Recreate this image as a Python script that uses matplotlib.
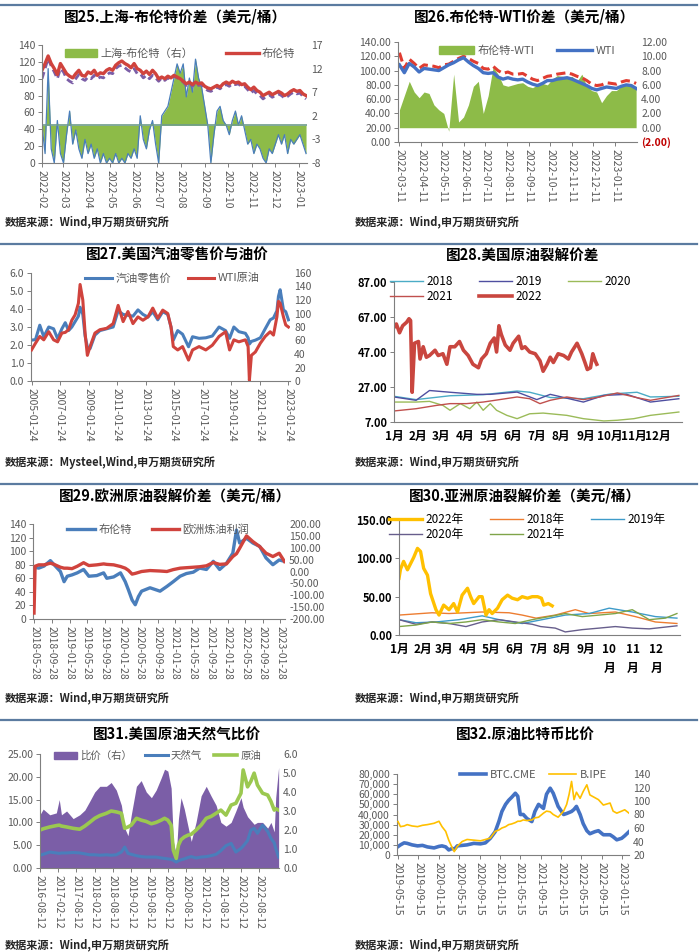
import numpy as np
import pandas as pd
import matplotlib
matplotlib.use('Agg')
import matplotlib.pyplot as plt
from matplotlib.patches import Patch
from matplotlib.lines import Line2D

plt.rcParams['font.family'] = ['Noto Sans CJK SC', 'DejaVu Sans']
plt.rcParams['axes.unicode_minus'] = False

# ---------------- 数据 ----------------
# 图25 上海-布伦特 (4天一个点, 从2022-02-01开始)
sh_brent_25 = [0, -6, 12, -5, -8, 1, -6, -8, -2, 3,
               -4, -1, -5, -7, -3, -6, -4, -7, -5, -8,
               -6, -8, -7, -8, -6, -8, -7, -8, -6, -7,
               -5, -7, 2, -3, -5, -1, 1, -4, -8, 2,
               3, 4, 7, 10, 13, 11, 13, 6, 10, 7,
               14, 10, 8, 4, 0, -8, -2, 3, 4, 1,
               0, -2, 1, 3, 0, 2, -1, -4, -3, -6,
               -4, -5, -7, -8, -5, -6, -4, -2, -4, -2,
               -6, -3, -4, -3, -2, -4, -6]
brent_25 = [110, 118, 127, 118, 112, 105, 118, 112, 106, 103,
            101, 106, 110, 104, 103, 108, 106, 110, 104, 107,
            106, 110, 112, 110, 116, 119, 121, 118, 116, 113,
            118, 112, 110, 106, 109, 105, 110, 106, 100, 102,
            100, 103, 101, 104, 102, 100, 97, 94, 96, 93,
            96, 94, 95, 91, 89, 88, 90, 92, 90, 94,
            96, 94, 97, 95, 96, 93, 94, 90, 87, 90,
            86, 84, 80, 82, 84, 81, 83, 85, 83, 80,
            82, 85, 87, 85, 86, 82, 80]
shanghai_25 = [100, 112, 124, 115, 108, 100, 112, 108, 100, 97,
               95, 100, 105, 100, 98, 102, 100, 104, 100, 102,
               101, 104, 107, 106, 112, 115, 116, 113, 110, 108,
               112, 106, 106, 101, 104, 100, 104, 101, 97, 101,
               98, 101, 99, 103, 101, 99, 96, 92, 95, 91,
               95, 92, 93, 89, 86, 85, 87, 90, 88, 92,
               93, 91, 94, 93, 94, 90, 91, 87, 83, 86,
               82, 80, 76, 79, 81, 78, 80, 82, 80, 77,
               79, 82, 84, 82, 83, 79, 76]

# 图26 布伦特-WTI (周度, 从2022-03-11开始)
brent_wti_26 = [2.5, 4.5, 6.5, 5.0, 4.2, 5.0, 4.8, 3.2, 2.5, 2.0,
                -0.5, 7.5, 0.8, 1.5, 3.2, 5.8, 6.5, 2.0, 4.5, 8.5,
                7.5, 6.0, 5.8, 6.0, 6.2, 6.3, 5.8, 5.6, 6.0, 6.2,
                6.0, 6.8, 7.3, 7.2, 7.0, 7.2, 6.5, 7.5, 5.8, 5.2,
                5.0, 3.5, 4.5, 5.2, 5.2, 5.8, 6.0, 6.2, 5.5]
wti_26 = [108, 97, 110, 105, 98, 103, 102, 101, 100, 104,
          108, 111, 115, 118, 112, 107, 103, 97, 96, 97,
          91, 88, 90, 88, 87, 88, 84, 81, 79, 82,
          86, 86, 88, 89, 90, 88, 85, 82, 79, 75,
          73, 75, 77, 76, 75, 78, 80, 79, 75]
brent_26 = [125, 103, 116, 110, 103, 108, 107, 106, 104, 108,
            109, 113, 117, 120, 117, 113, 110, 103, 102, 106,
            100, 96, 98, 95, 95, 96, 92, 88, 86, 89,
            92, 93, 95, 96, 97, 95, 92, 90, 86, 81,
            79, 80, 83, 82, 81, 84, 86, 85, 82]

# 图27 汽油零售价与WTI
t_27 = [2005.06, 2005.34, 2005.64, 2005.92, 2006.27, 2006.61, 2006.89, 2007.19, 2007.43, 2007.66,
        2007.89, 2008.12, 2008.35, 2008.47, 2008.66, 2008.82, 2008.98, 2009.17, 2009.51, 2009.86,
        2010.33, 2010.79, 2011.14, 2011.49, 2011.83, 2012.18, 2012.53, 2012.88, 2013.23, 2013.57,
        2013.92, 2014.27, 2014.62, 2014.85, 2015.01, 2015.32, 2015.66, 2016.08, 2016.36, 2016.82,
        2017.29, 2017.75, 2018.22, 2018.68, 2018.96, 2019.26, 2019.61, 2020.07, 2020.26, 2020.35,
        2020.49, 2020.77, 2021.12, 2021.46, 2021.81, 2022.04, 2022.28, 2022.39, 2022.51, 2022.74,
        2022.90, 2023.09]
gasoline_27 = [2.27, 2.3, 3.1, 2.46, 3.0, 2.9, 2.35, 2.9, 3.24, 2.8,
               3.0, 3.3, 3.6, 4.1, 3.7, 2.5, 1.9, 1.8, 2.55, 2.8,
               2.9, 3.0, 3.9, 3.7, 3.65, 3.6, 3.95, 3.7, 3.55, 3.85,
               3.4, 3.85, 3.7, 3.0, 2.27, 2.8, 2.6, 1.9, 2.46, 2.37,
               2.4, 2.5, 3.0, 2.8, 2.37, 3.0, 2.74, 2.65, 2.4, 2.05,
               2.2, 2.27, 2.4, 2.9, 3.4, 3.5, 3.9, 4.7, 5.07, 3.95,
               3.85, 3.4]
wti_27 = [46, 56, 66, 61, 73, 61, 58, 71, 72, 76,
          90, 98, 115, 143, 120, 71, 38, 51, 71, 76,
          78, 85, 112, 88, 103, 85, 95, 90, 95, 108,
          93, 105, 100, 80, 51, 46, 51, 31, 46, 51,
          46, 53, 66, 73, 46, 61, 58, 61, 51, 1,
          38, 43, 56, 66, 73, 68, 95, 118, 115, 95,
          83, 80]

# 图28 美国原油裂解价差 (按年内天数)
day_28_2018 = [0, 28, 71, 113, 156, 172, 198, 240, 274, 308, 325, 361]
val_28_2018 = [21.7, 19.8, 22, 22.6, 24.7, 24, 21, 20.3, 23, 24, 21.3, 21.7]
day_28_2019 = [0, 28, 45, 71, 105, 122, 156, 181, 198, 240, 266, 295, 325, 361]
val_28_2019 = [21.3, 19.4, 25, 24, 22.8, 22.8, 24.1, 19.8, 22.8, 18.4, 22.2, 22.8, 18.4, 20.3]
day_28_2020 = [0, 28, 45, 62, 71, 84, 96, 105, 113, 122, 130, 143, 156, 172, 189, 219,
               240, 266, 283, 304, 325, 361]
val_28_2020 = [18.4, 18.4, 18.8, 16.5, 13.7, 17.5, 14.6, 18.4, 13.7, 17.5, 13.7, 10.8, 8.9,
               11.7, 12.1, 10.8, 8.9, 7.6, 8, 8.9, 10.8, 12.7]
day_28_2021 = [0, 28, 54, 71, 92, 113, 134, 156, 172, 185, 198, 219, 240, 261, 283, 308, 325, 361]
val_28_2021 = [13.3, 14.6, 16.5, 17.5, 17.5, 18.4, 19.8, 21.3, 20.3, 17.5, 19.4, 21.3, 19.8,
               21.3, 23.6, 20.9, 19.4, 22.2]
day_28_2022 = [0, 3, 7, 11, 16, 19, 21, 23, 26, 31, 33, 37, 41, 45, 52, 56, 62, 67, 71, 77,
               83, 88, 94, 100, 107, 111, 117, 122, 127, 130, 133, 136, 141, 147, 151, 158,
               162, 166, 172, 179, 185, 189, 194, 198, 202, 208, 215, 221, 225, 232, 238,
               242, 245, 249, 252, 255, 257]
val_28_2022 = [61, 63, 58, 62, 64, 66, 65, 24, 52, 53, 43, 50, 44, 45, 48, 45, 46, 40, 50, 50,
               53, 48, 45, 40, 38, 43, 46, 52, 55, 47, 62, 57, 51, 48, 52, 56, 49, 50, 47, 46,
               42, 36, 40, 44, 41, 46, 45, 43, 47, 52, 46, 41, 37, 38, 46, 42, 40]

# 图29 欧洲原油裂解价差
t_29 = [2018.40, 2018.42, 2018.49, 2018.59, 2018.71, 2018.78, 2018.90, 2018.97, 2019.03, 2019.12,
        2019.22, 2019.34, 2019.44, 2019.59, 2019.72, 2019.78, 2019.91, 2020.04, 2020.13, 2020.19,
        2020.26, 2020.32, 2020.38, 2020.44, 2020.60, 2020.79, 2020.92, 2021.04, 2021.17, 2021.29,
        2021.42, 2021.54, 2021.67, 2021.80, 2021.92, 2022.05, 2022.17, 2022.24, 2022.30, 2022.43,
        2022.55, 2022.68, 2022.80, 2022.93, 2023.05, 2023.15]
brent_29 = [77, 76, 75, 78, 86, 80, 70, 55, 63, 65,
            68, 73, 63, 64, 68, 60, 62, 68, 55, 43,
            28, 21, 33, 41, 46, 41, 48, 55, 63, 67,
            69, 75, 73, 85, 73, 82, 97, 131, 112, 119,
            112, 107, 90, 80, 87, 85]
margin_29 = [-175, 22, 28, 28, 35, 30, 18, 14, 14, 12,
             22, 37, 25, 28, 32, 30, 28, 21, 14, 5,
             -11, -8, -4, 0, 4, 2, 0, 8, 14, 16,
             18, 20, 24, 38, 30, 32, 63, 75, 98, 150,
             126, 105, 77, 63, 77, 42]

# 图30 亚洲原油裂解价差 (按年内天数)
day_30_2022 = [0, 2, 6, 11, 15, 19, 24, 28, 32, 37, 41, 48, 52, 58, 65, 71, 76, 82, 89, 93,
               97, 104, 108, 113, 117, 121, 128, 134, 141, 147, 154, 160, 167, 173, 180, 185,
               188, 194, 199]
val_30_2022 = [74, 86, 96, 85, 93, 101, 113, 109, 87, 78, 54, 33, 26, 39, 33, 41, 30, 52, 61, 50,
               41, 50, 50, 26, 33, 28, 35, 46, 52, 48, 46, 50, 48, 50, 50, 48, 39, 41, 38]
day_30_2018 = [0, 43, 65, 108, 143, 160, 178, 203, 229, 247, 281, 307, 333, 361]
val_30_2018 = [26, 29, 28, 30, 29, 26, 22, 26, 33, 28, 30, 24, 17, 15]
day_30_2019 = [0, 22, 48, 78, 108, 130, 160, 186, 216, 247, 273, 303, 333, 361]
val_30_2019 = [20, 16, 17, 20, 25, 20, 15, 20, 26, 28, 35, 30, 24, 22]
day_30_2020 = [0, 22, 43, 65, 87, 108, 130, 151, 173, 184, 203, 216, 238, 260, 281, 303, 325, 361]
val_30_2020 = [20, 14, 17, 15, 11, 17, 20, 17, 14, 11, 9, 4, 7, 9, 11, 9, 8, 12]
day_30_2021 = [0, 22, 43, 65, 87, 108, 130, 151, 173, 195, 216, 238, 260, 281, 303, 325, 346, 361]
val_30_2021 = [11, 13, 17, 15, 17, 20, 17, 15, 20, 24, 28, 24, 26, 28, 33, 20, 22, 28]

# 图31 美国原油天然气比价
t_31 = [2016.61, 2016.70, 2016.88, 2017.06, 2017.14, 2017.20, 2017.34, 2017.52, 2017.70, 2017.84,
        2017.97, 2018.11, 2018.25, 2018.43, 2018.56, 2018.70, 2018.84, 2018.93, 2019.02, 2019.11,
        2019.25, 2019.38, 2019.52, 2019.66, 2019.79, 2019.93, 2020.02, 2020.11, 2020.20, 2020.26,
        2020.34, 2020.40, 2020.47, 2020.56, 2020.66, 2020.75, 2020.88, 2021.02, 2021.16, 2021.29,
        2021.43, 2021.56, 2021.70, 2021.84, 2021.97, 2022.11, 2022.17, 2022.29, 2022.38, 2022.47,
        2022.56, 2022.70, 2022.84, 2022.93, 2023.02, 2023.06, 2023.14]
ratio_31 = [2.8, 3.1, 2.8, 2.9, 3.6, 2.8, 3.0, 2.6, 2.8, 3.05,
            3.5, 4.0, 4.3, 4.3, 4.5, 4.1, 3.3, 2.1, 1.7, 2.8,
            4.3, 4.6, 4.0, 3.7, 4.1, 4.75, 5.2, 5.1, 4.2, 1.4,
            0.7, 2.6, 3.7, 3.1, 2.2, 1.4, 2.4, 3.8, 4.3, 3.8,
            3.3, 2.4, 2.2, 2.4, 3.0, 3.7, 3.2, 2.7, 2.5, 2.3,
            2.4, 2.4, 2.1, 2.4, 1.9, 3.7, 5.3]
crude_31 = [8.3, 8.6, 9.0, 9.3, 9.4, 9.2, 9.0, 8.7, 8.5, 9.2,
            10.0, 10.9, 11.5, 12.0, 12.5, 12.3, 12.0, 8.7, 9.0, 9.4,
            10.9, 10.5, 10.2, 9.7, 10.0, 10.5, 10.9, 10.5, 9.4, 3.9,
            2.1, 5.0, 6.2, 6.8, 7.2, 7.4, 8.3, 9.4, 10.9, 11.3,
            12.0, 12.7, 11.6, 13.8, 14.2, 16.4, 21.5, 17.8, 19.0, 20.8,
            18.2, 16.4, 16.0, 14.6, 12.7, 13.0, 12.7]
natgas_31 = [2.8, 3.0, 3.5, 3.3, 3.2, 3.3, 3.3, 3.4, 3.3, 3.1,
             2.9, 2.9, 2.8, 2.9, 2.8, 2.9, 3.5, 4.6, 3.2, 3.0,
             2.7, 2.5, 2.4, 2.4, 2.4, 2.2, 2.1, 2.0, 1.9, 1.7,
             1.3, 1.6, 1.8, 2.0, 2.3, 2.5, 2.2, 2.4, 2.5, 2.7,
             3.0, 3.8, 4.9, 5.4, 3.5, 4.3, 4.8, 6.0, 8.3, 8.7,
             7.6, 9.4, 8.0, 6.5, 5.5, 4.3, 2.4]

# 图32 原油比特币比价
t_32 = [2019.37, 2019.41, 2019.47, 2019.52, 2019.60, 2019.69, 2019.77, 2019.85, 2019.96, 2020.04,
        2020.09, 2020.15, 2020.20, 2020.26, 2020.29, 2020.34, 2020.42, 2020.50, 2020.61, 2020.72,
        2020.80, 2020.88, 2020.96, 2021.02, 2021.07, 2021.13, 2021.18, 2021.23, 2021.29, 2021.33,
        2021.37, 2021.42, 2021.48, 2021.56, 2021.61, 2021.67, 2021.75, 2021.80, 2021.86, 2021.91,
        2021.99, 2022.08, 2022.13, 2022.17, 2022.21, 2022.25, 2022.29, 2022.35, 2022.40, 2022.46,
        2022.51, 2022.59, 2022.65, 2022.73, 2022.84, 2022.89, 2022.95, 2023.03, 2023.08, 2023.15]
btc_32 = [8300, 10000, 12000, 11500, 10000, 9000, 9500, 8000, 7000, 8500,
          9000, 8000, 5000, 6500, 5500, 9000, 9500, 10000, 11500, 11000,
          12000, 16500, 23000, 33000, 43000, 50000, 54000, 57000, 61000, 58000,
          40000, 40000, 36000, 33000, 43000, 50000, 46000, 60000, 66000, 61000,
          48000, 40000, 41000, 42000, 43000, 45000, 48000, 40000, 31000, 24000,
          21000, 23000, 24000, 20000, 20000, 18000, 15000, 16500, 19000, 23000]
bipe_32 = [69.5, 62, 63, 65, 63, 62, 64, 65, 67, 70,
           62, 55, 42, 30, 25, 33, 40, 43, 42, 41,
           43, 45, 55, 57, 60, 62, 65, 66, 68, 70,
           70, 72, 71, 72, 75, 76, 82, 85, 84, 80,
           76, 85, 95, 110, 129, 102, 113, 104, 114, 124,
           109, 105, 102, 94, 97, 85, 82, 85, 87, 82]

month_days = [0, 31, 59, 90, 120, 151, 181, 212, 243, 273, 304, 334]

# ---------------- 颜色 ----------------
GREY = '#595959'
RED = '#D0433D'
BLUE = '#4A7EBB'
GREEN = '#8DBB48'
PURPLE = '#7B5EA7'
YELLOW = '#FFC000'

W, H = 700, 952
fig = plt.figure(figsize=(W / 100, H / 100), dpi=100)


def frac(d):
    d = pd.Timestamp(d)
    return d.year + (d.dayofyear - 1) / 365.25


def box(l, t, r, b):
    ax = fig.add_axes([l / W, 1 - b / H, (r - l) / W, (b - t) / H])
    ax.spines['top'].set_visible(False)
    ax.spines['right'].set_visible(False)
    for s in ('left', 'bottom'):
        ax.spines[s].set_color('#7f7f7f')
        ax.spines[s].set_linewidth(0.8)
    ax.tick_params(labelsize=7.5, labelcolor=GREY, color='#7f7f7f', length=3, width=0.7, pad=2)
    return ax


def twin(ax, below=True):
    ax2 = ax.twinx()
    for s in ax2.spines.values():
        s.set_visible(False)
    ax2.tick_params(axis='y', labelsize=7.5, labelcolor=GREY, length=0, pad=3)
    if below:
        ax.set_zorder(ax2.get_zorder() + 1)
        ax.patch.set_visible(False)
    return ax2


def date_ticks(ax, dates, fmt):
    ax.set_xticks([frac(d) for d in dates])
    ax.set_xticklabels([d.strftime(fmt) for d in dates], rotation=-90, fontsize=7.5)


def yticks(ax, ticks, fmt, **kw):
    ax.set_yticks(ticks)
    ax.set_yticklabels([fmt.format(v) for v in ticks], **kw)


def legend(ax, handles, labels, anchor, ncol, color=GREY, size=8, **kw):
    opts = dict(loc='upper left', bbox_to_anchor=anchor, ncol=ncol, frameon=False,
                fontsize=size, labelcolor=color, borderaxespad=0, borderpad=0,
                handlelength=3.2, handletextpad=0.3)
    opts.update(kw)
    leg = ax.legend(handles, labels, **opts)
    leg.set_zorder(20)


def header(cx, y, title):
    fig.text(cx / W, 1 - y / H, title, ha='center', va='center', fontsize=10.5, fontweight='bold')


def source(x, y, text='数据来源：Wind,申万期货研究所'):
    fig.text(x / W, 1 - y / H, text, ha='left', va='center', fontsize=8, fontweight='bold', color='#262626')


# 分隔线
for y in (5, 244, 484, 720):
    fig.add_artist(Line2D([0, 697 / W], [1 - y / H, 1 - y / H], transform=fig.transFigure,
                          color='#5B7BA0', lw=1.6))

# ---------- 图25 ----------
header(175, 16, '图25.上海-布伦特价差（美元/桶）')
ax = box(42, 45, 307, 163)
ax2 = twin(ax)
x25 = frac('2022-02-01') + np.arange(len(sh_brent_25)) * 4 / 365.25
ax2.fill_between(x25, 0, sh_brent_25, color=GREEN, lw=0)
ax2.plot(x25, sh_brent_25, color=BLUE, lw=0.9)
ax2.axhline(0, color='#6E9C8C', lw=1.2)
ax2.set_ylim(-8, 17)
yticks(ax2, [-8, -3, 2, 7, 12, 17], '{}')
ax.plot(x25, shanghai_25, color=PURPLE, lw=2, dashes=(2.5, 1.5))
ax.plot(x25, brent_25, color=RED, lw=2.4)
ax.set_ylim(0, 140)
yticks(ax, list(range(0, 141, 20)), '{}')
ax.set_xlim(frac('2022-02-01'), frac('2023-01-12'))
date_ticks(ax, pd.date_range('2022-02-01', '2023-01-01', freq='MS'), '%Y-%m')
legend(ax, [Patch(color=GREEN), Line2D([], [], color=RED, lw=2.4)],
       ['上海-布伦特（右）', '布伦特'], (0.085, 0.97), 2, columnspacing=3.0, handlelength=2.9)
source(5, 222)

# ---------- 图26 ----------
header(525, 16, '图26.布伦特-WTI价差（美元/桶）')
ax = box(398, 42, 637, 142)
ax2 = twin(ax)
x26 = frac('2022-03-11') + np.arange(len(wti_26)) * 7 / 365.25
ax2.fill_between(x26, 0, brent_wti_26, color=GREEN, lw=0)
ax2.set_ylim(-2, 12)
right26 = list(range(-2, 13, 2))
ax2.set_yticks(right26)
ax2.set_yticklabels(['(2.00)'] + [f'{v:.2f}' for v in right26[1:]])
ax2.get_yticklabels()[0].set_color('#C00000')
ax2.get_yticklabels()[0].set_fontweight('bold')
ax.plot(x26, brent_26, color='#E03C31', lw=2.2, dashes=(3, 1.5))
ax.plot(x26, wti_26, color='#4472C4', lw=2.4)
ax.set_ylim(0, 140)
yticks(ax, list(range(0, 141, 20)), '{:.2f}')
ax.set_xlim(frac('2022-03-09'), frac('2023-02-11'))
date_ticks(ax, pd.date_range('2022-03-11', periods=11, freq=pd.DateOffset(months=1)), '%Y-%m-%d')
legend(ax, [Patch(color=GREEN), Line2D([], [], color='#4472C4', lw=2.4)],
       ['布伦特-WTI', 'WTI'], (0.17, 0.97), 2, columnspacing=2.0)
source(355, 222)

# ---------- 图27 ----------
header(177, 255, '图27.美国汽油零售价与油价')
ax = box(31, 273, 290, 381)
ax2 = twin(ax, below=False)
ax.plot(t_27, gasoline_27, color=BLUE, lw=2.2)
ax2.plot(t_27, wti_27, color=RED, lw=2.2)
ax.set_ylim(0, 6)
yticks(ax, [0, 1, 2, 3, 4, 5, 6], '{:.1f}')
ax2.set_ylim(0, 160)
yticks(ax2, list(range(0, 161, 20)), '{}')
ax.set_xlim(frac('2005-01-10'), 2023.2)
date_ticks(ax, pd.date_range('2005-01-24', periods=10, freq=pd.DateOffset(years=2)), '%Y-%m-%d')
legend(ax2, [Line2D([], [], color=BLUE, lw=2.2), Line2D([], [], color=RED, lw=2.2)],
       ['汽油零售价', 'WTI原油'], (0.21, 1.0), 2, columnspacing=1.5, handlelength=2.4)
source(5, 462, '数据来源：Mysteel,Wind,申万期货研究所')

# ---------- 图28 ----------
header(523, 255, '图28.美国原油裂解价差')
ax = box(394, 282, 682, 422)
l18, = ax.plot(day_28_2018, val_28_2018, color='#4BACC6', lw=1)
l19, = ax.plot(day_28_2019, val_28_2019, color='#4F4FA0', lw=1)
l20, = ax.plot(day_28_2020, val_28_2020, color='#9BBB59', lw=1)
l21, = ax.plot(day_28_2021, val_28_2021, color='#C0504D', lw=1)
l22, = ax.plot(day_28_2022, val_28_2022, color='#C9463F', lw=2.6)
ax.set_ylim(7, 87)
yticks(ax, [7, 27, 47, 67, 87], '{:.2f}', fontweight='bold', color='black', fontsize=8)
ax.set_xlim(0, 365)
ax.set_xticks(month_days)
ax.set_xticklabels([f'{m}月' for m in range(1, 13)], fontweight='bold', color='black', fontsize=8.5)
ax.tick_params(axis='x', length=0, pad=6)
# 图例按行排列: 2018 2019 2020 / 2021 2022
legend(ax, [l18, l21, l19, l22, l20], ['2018', '2021', '2019', '2022', '2020'],
       (-0.015, 1.05), 3, color='black', size=8.5, columnspacing=2.2, handlelength=2.8,
       labelspacing=0.15)
source(355, 462)

# ---------- 图29 ----------
header(175, 495, '图29.欧洲原油裂解价差（美元/桶）')
ax = box(33, 524, 285, 619)
ax2 = twin(ax, below=False)
ax.plot(t_29, brent_29, color=BLUE, lw=2.4)
ax2.plot(t_29, margin_29, color=RED, lw=2.4)
ax.set_ylim(0, 140)
yticks(ax, list(range(0, 141, 20)), '{}')
ax2.set_ylim(-200, 200)
yticks(ax2, list(range(-200, 201, 50)), '{:.2f}')
ax.set_xlim(frac('2018-05-20'), 2023.16)
date_ticks(ax, pd.date_range('2018-05-28', periods=15, freq=pd.DateOffset(months=4)), '%Y-%m-%d')
legend(ax2, [Line2D([], [], color=BLUE, lw=2.4), Line2D([], [], color=RED, lw=2.4)],
       ['布伦特', '欧洲炼油利润'], (0.135, 1.0), 2, columnspacing=1.8, handlelength=2.5)
source(5, 698)

# ---------- 图30 ----------
header(525, 495, '图30.亚洲原油裂解价差（美元/桶）')
ax = box(399, 520, 680, 635)
a18, = ax.plot(day_30_2018, val_30_2018, color='#ED7D31', lw=1)
a19, = ax.plot(day_30_2019, val_30_2019, color='#3E9BC9', lw=1)
a20, = ax.plot(day_30_2020, val_30_2020, color='#675E8C', lw=1)
a21, = ax.plot(day_30_2021, val_30_2021, color='#7FA449', lw=1)
a22, = ax.plot(day_30_2022, val_30_2022, color=YELLOW, lw=2.4)
ax.set_ylim(0, 150)
yticks(ax, [0, 50, 100, 150], '{:.2f}', fontweight='bold', color='black', fontsize=8)
ax.set_xlim(0, 365)
ax.set_xticks(month_days)
ax.set_xticklabels([f'{m}月' for m in range(1, 10)] + ['10\n月', '11\n月', '12\n月'],
                   fontweight='bold', color='black', fontsize=8.5, va='top', linespacing=1.6)
ax.tick_params(axis='x', length=0, pad=6)
# 图例按行排列: 2022 2018 2019 / 2020 2021
legend(ax, [a22, a20, a18, a21, a19], ['2022年', '2020年', '2018年', '2021年', '2019年'],
       (-0.035, 1.06), 3, color='black', size=8.5, columnspacing=2.2, handlelength=2.8,
       labelspacing=0.15)
source(355, 698)

# ---------- 图31 ----------
header(177, 734, '图31.美国原油天然气比价')
ax = box(40, 754, 279, 868)
ax2 = twin(ax)
ax2.fill_between(t_31, 0, ratio_31, color=PURPLE, lw=0)
ax2.set_ylim(0, 6)
yticks(ax2, [0, 1, 2, 3, 4, 5, 6], '{:.1f}')
ax.plot(t_31, natgas_31, color=BLUE, lw=2.2)
ax.plot(t_31, crude_31, color='#9BC850', lw=2.6)
ax.set_ylim(0, 25)
yticks(ax, [0, 5, 10, 15, 20, 25], '{:.2f}')
ax.set_xlim(frac('2016-08-12'), 2023.15)
date_ticks(ax, pd.date_range('2016-08-12', periods=13, freq=pd.DateOffset(months=6)), '%Y-%m-%d')
legend(ax, [Patch(color=PURPLE), Line2D([], [], color=BLUE, lw=2.2), Line2D([], [], color='#9BC850', lw=2.6)],
       ['比价（右）', '天然气', '原油'], (0.06, 1.03), 3, size=7.5, columnspacing=1.2,
       handlelength=2.2)
source(5, 945)

# ---------- 图32 ----------
header(525, 734, '图32.原油比特币比价')
ax = box(397, 774, 629, 855)
ax2 = twin(ax, below=False)
ax.plot(t_32, btc_32, color='#4472C4', lw=2.6)
ax2.plot(t_32, bipe_32, color=YELLOW, lw=1.2)
ax.set_ylim(0, 80000)
yticks(ax, list(range(0, 80001, 10000)), '{:,}')
ax2.set_ylim(20, 140)
yticks(ax2, list(range(20, 141, 20)), '{}')
ax.set_xlim(frac('2019-05-10'), 2023.15)
date_ticks(ax, pd.date_range('2019-05-15', periods=12, freq=pd.DateOffset(months=4)), '%Y-%m-%d')
legend(ax2, [Line2D([], [], color='#4472C4', lw=2.6), Line2D([], [], color=YELLOW, lw=1.2)],
       ['BTC.CME', 'B.IPE'], (0.27, 1.05), 2, columnspacing=1.2, handlelength=2.4)
source(355, 945)

fig.savefig('out.png', dpi=100)
